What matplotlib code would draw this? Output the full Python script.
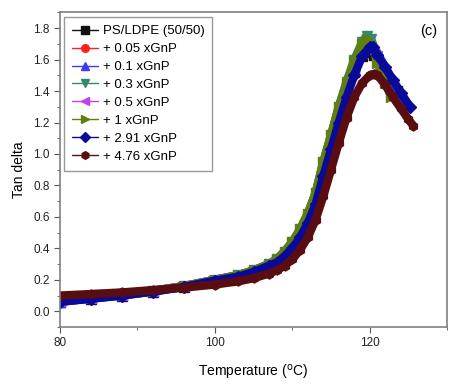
import matplotlib
matplotlib.use('Agg')
import matplotlib.pyplot as plt
from matplotlib.ticker import MultipleLocator

plt.rcParams['font.family'] = ['Liberation Sans', 'DejaVu Sans']

# temperature grids (deg C)
t_base = [80, 84, 88, 92, 96, 100, 103, 105, 107, 108, 109, 110, 111, 112, 113,
          114, 115, 116, 117, 118, 119]

t_ps = t_base + [119.8, 120.5, 121.5, 122.5, 123.5]
td_ps = [0.06, 0.08, 0.10, 0.125, 0.155, 0.195, 0.22, 0.25, 0.29, 0.32, 0.36, 0.41,
         0.48, 0.58, 0.70, 0.88, 1.05, 1.22, 1.38, 1.52, 1.62, 1.65, 1.63, 1.55, 1.47, 1.40]

t_005 = t_base + [119.6, 120.3, 121.2, 122.3]
td_005 = [0.07, 0.09, 0.11, 0.13, 0.16, 0.20, 0.23, 0.26, 0.30, 0.33, 0.38, 0.44,
          0.52, 0.62, 0.75, 0.94, 1.11, 1.29, 1.44, 1.58, 1.68, 1.72, 1.68, 1.57, 1.45]

t_01 = t_base + [120.0, 120.8, 121.8, 122.8, 123.8, 124.5]
td_01 = [0.06, 0.085, 0.105, 0.13, 0.16, 0.20, 0.23, 0.26, 0.30, 0.33, 0.37, 0.43,
         0.50, 0.60, 0.73, 0.91, 1.09, 1.26, 1.42, 1.56, 1.66, 1.70, 1.66, 1.57, 1.48, 1.39, 1.33]

t_03 = t_base + [119.6, 120.2, 121.0, 122.0]
td_03 = [0.07, 0.09, 0.11, 0.13, 0.16, 0.20, 0.23, 0.26, 0.30, 0.33, 0.38, 0.44,
         0.52, 0.62, 0.75, 0.95, 1.12, 1.30, 1.46, 1.60, 1.71, 1.75, 1.73, 1.62, 1.50]

t_05 = t_base + [119.8, 120.5, 121.2]
td_05 = [0.065, 0.085, 0.105, 0.13, 0.16, 0.20, 0.225, 0.255, 0.295, 0.32, 0.36, 0.42,
         0.49, 0.59, 0.71, 0.89, 1.06, 1.23, 1.39, 1.53, 1.64, 1.68, 1.65, 1.58]

t_1 = t_base + [119.6, 120.2, 121.0, 122.0, 122.8]
td_1 = [0.07, 0.09, 0.11, 0.13, 0.16, 0.20, 0.23, 0.26, 0.30, 0.33, 0.38, 0.44,
        0.52, 0.62, 0.75, 0.95, 1.12, 1.30, 1.45, 1.59, 1.70, 1.73, 1.70, 1.58, 1.45, 1.36]

t_291 = t_base + [120.0, 120.4, 121.0, 122.0, 123.0, 124.0, 125.2]
td_291 = [0.06, 0.08, 0.10, 0.125, 0.155, 0.195, 0.22, 0.25, 0.29, 0.31, 0.35, 0.40,
          0.47, 0.56, 0.68, 0.86, 1.03, 1.20, 1.36, 1.50, 1.62, 1.68, 1.68, 1.63, 1.55,
          1.47, 1.39, 1.30]

t_476 = t_base + [120.0, 120.6, 121.0, 122.0, 123.0, 124.0, 125.0, 125.6]
td_476 = [0.10, 0.11, 0.12, 0.135, 0.15, 0.17, 0.19, 0.21, 0.24, 0.26, 0.29, 0.33,
          0.39, 0.47, 0.58, 0.73, 0.90, 1.07, 1.23, 1.36, 1.45, 1.50, 1.51, 1.50, 1.44,
          1.36, 1.29, 1.22, 1.18]

series = [
    ('PS/LDPE (50/50)', t_ps, td_ps, '#111111', 's'),
    ('+ 0.05 xGnP', t_005, td_005, '#ff2020', 'o'),
    ('+ 0.1 xGnP', t_01, td_01, '#3a3aff', '^'),
    ('+ 0.3 xGnP', t_03, td_03, '#2f8a70', 'v'),
    ('+ 0.5 xGnP', t_05, td_05, '#c040f0', '<'),
    ('+ 1 xGnP', t_1, td_1, '#5f7f10', '>'),
    ('+ 2.91 xGnP', t_291, td_291, '#0a0a9a', 'D'),
    ('+ 4.76 xGnP', t_476, td_476, '#5a0d10', 'h'),
]

fig = plt.figure(figsize=(4.54, 3.87), dpi=100)
ax = fig.add_axes([0.132, 0.155, 0.853, 0.813])

for name, t, td, col, mk in series:
    ax.plot(t, td, color=col, lw=6, marker=mk, ms=6.5, mec=col, mfc=col,
            label=name, solid_capstyle='round', solid_joinstyle='round')

ax.set_xlim(80, 130)
ax.set_ylim(-0.1, 1.9)
ax.xaxis.set_major_locator(MultipleLocator(20))
ax.xaxis.set_minor_locator(MultipleLocator(10))
ax.yaxis.set_minor_locator(MultipleLocator(0.1))
ax.set_yticks([0.0, 0.2, 0.4, 0.6, 0.8, 1.0, 1.2, 1.4, 1.6, 1.8])
ax.tick_params(which='both', direction='out', color='#555555', labelsize=8.5,
               labelcolor='#222222')
ax.tick_params(which='major', length=4)
ax.tick_params(which='minor', length=2.5)
for sp in ax.spines.values():
    sp.set_color('#808080')
    sp.set_linewidth(1.2)

ax.set_xlabel('Temperature ($^{\\mathrm{o}}$C)', fontsize=10, labelpad=10)
ax.set_ylabel('Tan delta', fontsize=10, labelpad=5)
ax.text(0.975, 0.94, '(c)', transform=ax.transAxes, ha='right', va='center',
        fontsize=10.5)

leg = ax.legend(loc='upper left', bbox_to_anchor=(0.003, 0.993), fontsize=9.5,
                fancybox=False, edgecolor='#808080', handlelength=2.0,
                labelspacing=0.43, borderpad=0.6, handletextpad=0.35,
                borderaxespad=0.2)
leg.get_frame().set_linewidth(1.0)
for h in leg.legend_handles:
    h.set_linewidth(1.0)
    h.set_markersize(5.5)

fig.savefig('out.png', dpi=100)
